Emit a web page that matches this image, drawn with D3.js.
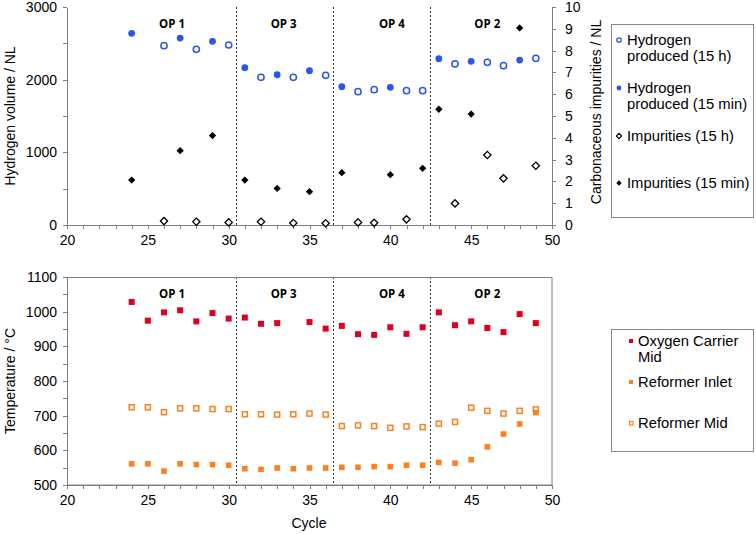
<!DOCTYPE html>
<html>
<head>
<meta charset="utf-8">
<script src="https://cdn.jsdelivr.net/npm/d3@7"></script>
<style>
  body { margin: 0; background: #fff; }
  svg { display: block; font-family: "Liberation Sans", Arial, sans-serif; }
  .axis path, .axis line { stroke: #7f7f7f; stroke-width: 1; shape-rendering: crispEdges; }
  .axis text { font-size: 14px; fill: #000; font-family: "Liberation Sans", Arial, sans-serif; }
</style>
</head>
<body>
<svg id="chart" width="756" height="534"></svg>
<script>
// ---------- DATA ----------
const h2Cycles15h = [26, 28, 30, 32, 34, 36, 38, 39, 41, 42, 44, 46, 47, 49];
const h2Values15h = [2468, 2418, 2477, 2032, 2032, 2060, 1835, 1862, 1849, 1849, 2216, 2239, 2193, 2294];

const h2Cycles15min = [24, 27, 29, 31, 33, 35, 37, 40, 43, 45, 48];
const h2Values15min = [2638, 2573, 2528, 2165, 2068, 2124, 1904, 1895, 2289, 2252, 2270];

const impCycles15h = [26, 28, 30, 32, 34, 36, 38, 39, 41, 44, 46, 47, 49];
const impValues15h = [0.18, 0.15, 0.12, 0.15, 0.09, 0.08, 0.12, 0.10, 0.26, 0.99, 3.21, 2.14, 2.72];

const impCycles15min = [24, 27, 29, 31, 33, 35, 37, 40, 42, 43, 45, 48];
const impValues15min = [2.06, 3.41, 4.10, 2.06, 1.68, 1.53, 2.40, 2.31, 2.60, 5.31, 5.09, 9.04];

const ocCycles = [24, 25, 26, 27, 28, 29, 30, 31, 32, 33, 35, 36, 37, 38, 39, 40, 41, 42, 43, 44, 45, 46, 47, 48, 49];
const ocMid = [1028, 974, 998, 1004, 972, 996, 980, 983, 965, 967, 970, 951, 959, 935, 933, 955, 936, 955, 998, 961, 972, 953, 941, 993, 967];

const refCycles = [24, 25, 26, 27, 28, 29, 30, 31, 32, 33, 34, 35, 36, 37, 38, 39, 40, 41, 42, 43, 44, 45, 46, 47, 48, 49];
const refInlet = [561, 561, 540, 561, 559, 559, 557, 547, 545, 549, 547, 549, 549, 551, 551, 553, 553, 557, 557, 565, 563, 573, 610, 647, 676, 709];
const refMid = [724, 724, 710, 721, 721, 719, 719, 704, 704, 703, 704, 706, 703, 670, 672, 670, 665, 669, 667, 677, 682, 723, 714, 706, 714, 718];

const opBoundaries = [30.5, 36.5, 42.5];
const opLabels = ["OP 1", "OP 3", "OP 4", "OP 2"];
const opLabelPos = [26.5, 33.4, 40.1, 46.0];

const xTicksMajor = [20, 25, 30, 35, 40, 45, 50];
const yTopLeftTicks = [0, 1000, 2000, 3000];
const yTopRightTicks = [0, 1, 2, 3, 4, 5, 6, 7, 8, 9, 10];
const yBotTicks = [500, 600, 700, 800, 900, 1000, 1100];

// ---------- STYLE ----------
const BLUE = "#2a55ee";
const RED = "#df0020";
const ORANGE = "#ff7f1e";
const LEGEND_FS = "14.8px";

const svg = d3.select("#chart");

const x = d3.scaleLinear().domain([20, 50]).range([67, 552]);
const yTL = d3.scaleLinear().domain([0, 3000]).range([225, 7]);
const yTR = d3.scaleLinear().domain([0, 10]).range([225, 7]);
const yB = d3.scaleLinear().domain([500, 1100]).range([485, 277]);

const zip = (a, b) => a.map((v, i) => [v, b[i]]);

// ---------- TOP CHART ----------
function xAxis(g, yPos) {
  g.append("g").attr("class", "axis").attr("transform", `translate(0,${yPos})`)
    .call(d3.axisBottom(x).tickValues(d3.range(20, 51, 1)).tickSize(4).tickFormat(""))
    .call(a => a.select(".domain").remove());
  g.append("g").attr("class", "axis").attr("transform", `translate(0,${yPos})`)
    .call(d3.axisBottom(x).tickValues(xTicksMajor).tickSize(4).tickSizeOuter(0).tickPadding(6).tickFormat(d3.format("d")));
}

const topG = svg.append("g");
xAxis(topG, 225);
topG.append("g").attr("class", "axis").attr("transform", "translate(67,0)")
  .call(d3.axisLeft(yTL).tickValues(d3.range(0, 3001, 500)).tickSize(4).tickSizeOuter(0).tickPadding(6)
    .tickFormat(d => yTopLeftTicks.includes(d) ? d : ""));
topG.append("g").attr("class", "axis").attr("transform", "translate(552,0)")
  .call(d3.axisRight(yTR).tickValues(yTopRightTicks).tickSize(4).tickSizeOuter(0).tickPadding(9));

// dashed separators
[[7, 225], [277, 485]].forEach(([y0, y1]) => {
  svg.append("g").selectAll("line").data(opBoundaries).join("line")
    .attr("x1", d => x(d)).attr("x2", d => x(d))
    .attr("y1", y0).attr("y2", y1)
    .attr("stroke", "#333").attr("stroke-width", 1).attr("stroke-dasharray", "2,2")
    .attr("shape-rendering", "crispEdges");
});

// OP labels
[27.5, 298].forEach(yb => {
  svg.append("g").selectAll("text").data(opLabels).join("text")
    .attr("x", (d, i) => x(opLabelPos[i])).attr("y", yb)
    .attr("text-anchor", "middle")
    .attr("font-size", "11.5px").attr("font-weight", "bold")
    .attr("font-family", "'Open Sans', 'Liberation Sans', sans-serif")
    .text(d => d);
});

// top marks
const diamond = d3.symbol().type(d3.symbolDiamond2).size(34);
topG.append("g").selectAll("path").data(zip(impCycles15h, impValues15h)).join("path")
  .attr("d", diamond).attr("transform", d => `translate(${x(d[0])},${yTR(d[1])})`)
  .attr("fill", "#fff").attr("stroke", "#000").attr("stroke-width", 1.3);
topG.append("g").selectAll("path").data(zip(impCycles15min, impValues15min)).join("path")
  .attr("d", diamond).attr("transform", d => `translate(${x(d[0])},${yTR(d[1])})`)
  .attr("fill", "#000");
topG.append("g").selectAll("circle").data(zip(h2Cycles15h, h2Values15h)).join("circle")
  .attr("cx", d => x(d[0])).attr("cy", d => yTL(d[1])).attr("r", 3.1)
  .attr("fill", "#fff").attr("stroke", BLUE).attr("stroke-width", 1.5);
topG.append("g").selectAll("circle").data(zip(h2Cycles15min, h2Values15min)).join("circle")
  .attr("cx", d => x(d[0])).attr("cy", d => yTL(d[1])).attr("r", 3.4)
  .attr("fill", BLUE);

// axis titles
svg.append("text").attr("transform", "translate(15,116) rotate(-90)")
  .attr("text-anchor", "middle").attr("font-size", "14px").text("Hydrogen volume / NL");
svg.append("text").attr("transform", "translate(601,112) rotate(-90)")
  .attr("text-anchor", "middle").attr("font-size", "14px").text("Carbonaceous impurities / NL");

// top legend
svg.append("rect").attr("x", 611.5).attr("y", 24.5).attr("width", 142).attr("height", 193)
  .attr("fill", "#fff").attr("stroke", "#888").attr("stroke-width", 1);
const lg1 = [
  { lines: ["Hydrogen", "produced (15 h)"], y: 45, type: "oc" },
  { lines: ["Hydrogen", "produced (15 min)"], y: 93, type: "fc" },
  { lines: ["Impurities (15 h)"], y: 141, type: "od" },
  { lines: ["Impurities (15 min)"], y: 188, type: "fd" }
];
lg1.forEach(e => {
  const my = e.y - 5;
  if (e.type === "oc") svg.append("circle").attr("cx", 619).attr("cy", my).attr("r", 2.2).attr("fill", "#fff").attr("stroke", BLUE).attr("stroke-width", 1.3);
  if (e.type === "fc") svg.append("circle").attr("cx", 619).attr("cy", my).attr("r", 2.4).attr("fill", BLUE);
  if (e.type === "od") svg.append("path").attr("d", d3.symbol().type(d3.symbolDiamond2).size(18)).attr("transform", `translate(619,${my})`).attr("fill", "#fff").attr("stroke", "#000").attr("stroke-width", 1.1);
  if (e.type === "fd") svg.append("path").attr("d", d3.symbol().type(d3.symbolDiamond2).size(18)).attr("transform", `translate(619,${my})`).attr("fill", "#000");
  e.lines.forEach((t, i) => svg.append("text").attr("x", 627).attr("y", e.y + i * 16).attr("font-size", LEGEND_FS).text(t));
});

// ---------- BOTTOM CHART ----------
const botG = svg.append("g");
botG.append("rect").attr("x", 67.5).attr("y", 277.5).attr("width", 484.5).attr("height", 207.5)
  .attr("fill", "none").attr("stroke", "#7f7f7f").attr("stroke-width", 1);
xAxis(botG, 485);
botG.append("g").attr("class", "axis").attr("transform", "translate(67,0)")
  .call(d3.axisLeft(yB).tickValues(d3.range(500, 1101, 50)).tickSize(4).tickSizeOuter(0).tickPadding(6)
    .tickFormat(d => yBotTicks.includes(d) ? d : ""));

botG.append("g").selectAll("rect").data(zip(refCycles, refMid)).join("rect")
  .attr("x", d => x(d[0]) - 2.5).attr("y", d => yB(d[1]) - 2.5).attr("width", 5).attr("height", 5)
  .attr("fill", "#fff").attr("stroke", ORANGE).attr("stroke-width", 1.5);
botG.append("g").selectAll("rect").data(zip(refCycles, refInlet)).join("rect")
  .attr("x", d => x(d[0]) - 2.8).attr("y", d => yB(d[1]) - 2.8).attr("width", 5.6).attr("height", 5.6)
  .attr("fill", ORANGE);
botG.append("g").selectAll("rect").data(zip(ocCycles, ocMid)).join("rect")
  .attr("x", d => x(d[0]) - 3).attr("y", d => yB(d[1]) - 3).attr("width", 6).attr("height", 6)
  .attr("fill", RED);

svg.append("text").attr("transform", "translate(15,381) rotate(-90)")
  .attr("text-anchor", "middle").attr("font-size", "14px").text("Temperature / °C");
svg.append("text").attr("x", 309).attr("y", 528)
  .attr("text-anchor", "middle").attr("font-size", "14px").text("Cycle");

// bottom legend
svg.append("rect").attr("x", 611.5).attr("y", 329.5).attr("width", 142).attr("height", 122)
  .attr("fill", "#fff").attr("stroke", "#888").attr("stroke-width", 1);
const lg2 = [
  { lines: ["Oxygen Carrier", "Mid"], y: 346, type: "red" },
  { lines: ["Reformer Inlet"], y: 387, type: "fo" },
  { lines: ["Reformer Mid"], y: 428, type: "oo" }
];
lg2.forEach(e => {
  const my = e.y - 5;
  if (e.type === "red") svg.append("rect").attr("x", 629).attr("y", my - 2).attr("width", 4).attr("height", 4).attr("fill", RED);
  if (e.type === "fo") svg.append("rect").attr("x", 629).attr("y", my - 2).attr("width", 4).attr("height", 4).attr("fill", ORANGE);
  if (e.type === "oo") svg.append("rect").attr("x", 629.5).attr("y", my - 1.5).attr("width", 3.5).attr("height", 3.5).attr("fill", "#fff").attr("stroke", ORANGE).attr("stroke-width", 1.2);
  e.lines.forEach((t, i) => svg.append("text").attr("x", 638).attr("y", e.y + i * 16).attr("font-size", LEGEND_FS).text(t));
});
</script>
</body>
</html>
